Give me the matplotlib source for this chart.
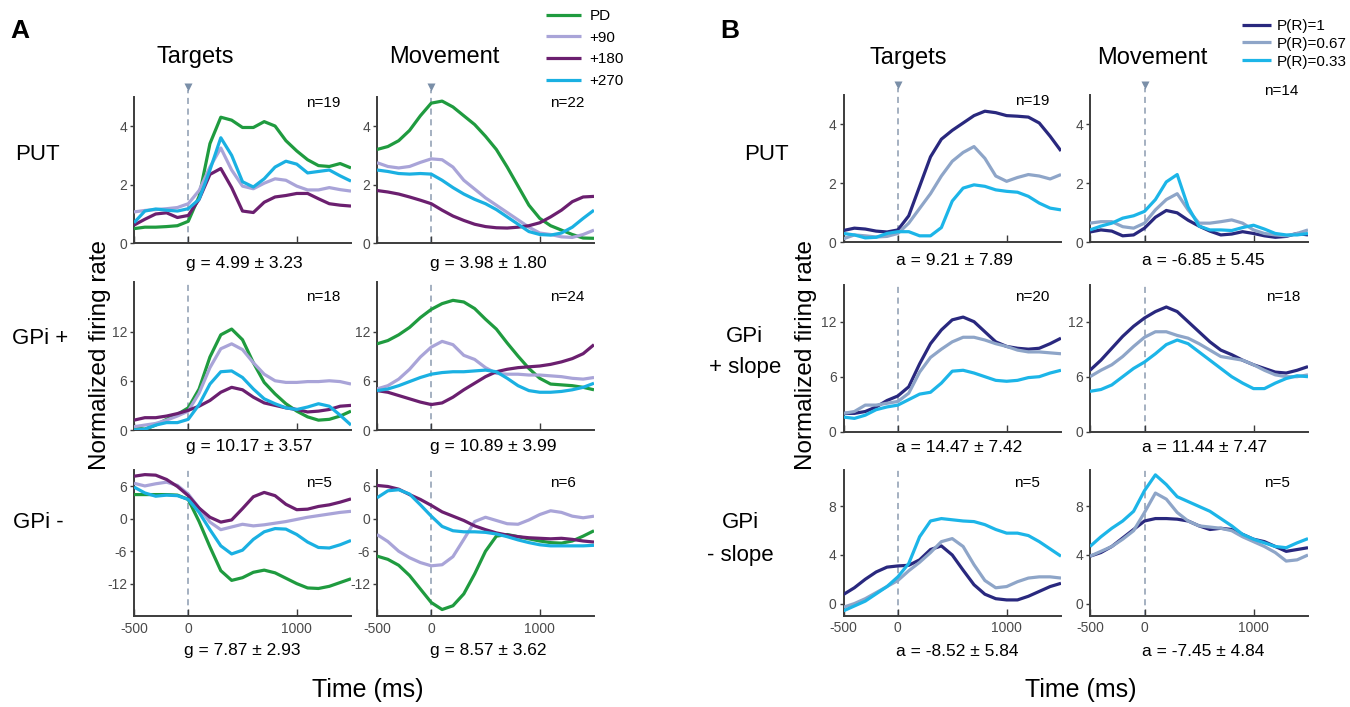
import matplotlib
matplotlib.use("Agg")
import matplotlib.pyplot as plt
from matplotlib import font_manager
from matplotlib.transforms import blended_transform_factory

plt.rcParams['font.family'] = ['Liberation Sans', 'DejaVu Sans']
installed = {f.name for f in font_manager.fontManager.ttflist}
tick_font = 'Liberation Sans Narrow' if 'Liberation Sans Narrow' in installed else 'Liberation Sans'

# time axis (ms) shared by every curve
time_ms = [-500, -400, -300, -200, -100, 0, 100, 200, 300, 400, 500,
           600, 700, 800, 900, 1000, 1100, 1200, 1300, 1400, 1500]

# ---- panel A : direction tuning ----
a_labels = ['PD', '+90', '+180', '+270']
a_colors = ['#1f9b3f', '#a9a4d8', '#6b1f6f', '#1ab0e2']

a_put_tgt_pd = [0.5, 0.55, 0.55, 0.57, 0.6, 0.75, 1.6, 3.4, 4.3, 4.2, 3.95, 3.95, 4.15, 4.0, 3.5, 3.15, 2.85, 2.65, 2.62, 2.72, 2.57]
a_put_tgt_90 = [1.07, 1.12, 1.15, 1.18, 1.22, 1.35, 1.8, 2.6, 3.25, 2.5, 1.95, 1.86, 2.05, 2.2, 2.15, 1.95, 1.82, 1.82, 1.9, 1.83, 1.78]
a_put_tgt_180 = [0.62, 0.82, 1.0, 1.04, 0.88, 0.95, 1.5, 2.35, 2.55, 1.9, 1.1, 1.05, 1.4, 1.58, 1.63, 1.7, 1.7, 1.52, 1.35, 1.3, 1.27]
a_put_tgt_270 = [0.7, 1.1, 1.17, 1.13, 1.1, 1.18, 1.5, 2.5, 3.6, 3.0, 2.1, 1.92, 2.2, 2.6, 2.8, 2.7, 2.4, 2.45, 2.5, 2.3, 2.12]

a_put_mov_pd = [3.2, 3.3, 3.5, 3.85, 4.35, 4.78, 4.85, 4.65, 4.35, 4.05, 3.65, 3.2, 2.6, 1.95, 1.3, 0.85, 0.6, 0.45, 0.3, 0.18, 0.17]
a_put_mov_90 = [2.75, 2.62, 2.57, 2.62, 2.76, 2.88, 2.85, 2.6, 2.15, 1.85, 1.55, 1.3, 1.05, 0.8, 0.55, 0.35, 0.3, 0.22, 0.2, 0.3, 0.45]
a_put_mov_180 = [1.8, 1.75, 1.68, 1.58, 1.47, 1.35, 1.13, 0.93, 0.78, 0.65, 0.57, 0.53, 0.52, 0.55, 0.6, 0.7, 0.9, 1.13, 1.42, 1.58, 1.6]
a_put_mov_270 = [2.5, 2.45, 2.38, 2.36, 2.38, 2.36, 2.15, 1.9, 1.68, 1.5, 1.35, 1.15, 0.9, 0.65, 0.4, 0.3, 0.28, 0.35, 0.55, 0.85, 1.13]

a_gpp_tgt_pd = [0.3, 0.1, 0.6, 1.3, 1.9, 2.7, 5.0, 8.9, 11.6, 12.3, 11.0, 8.2, 5.8, 4.4, 3.2, 2.3, 1.6, 1.2, 1.3, 1.7, 2.3]
a_gpp_tgt_90 = [0.4, 0.6, 0.8, 1.2, 1.7, 2.3, 4.5, 7.6, 9.9, 10.5, 9.8, 8.2, 6.8, 6.0, 5.8, 5.8, 5.9, 5.9, 6.0, 5.9, 5.6]
a_gpp_tgt_180 = [1.2, 1.5, 1.5, 1.7, 2.0, 2.4, 2.9, 3.6, 4.6, 5.2, 4.9, 4.0, 3.3, 3.0, 2.7, 2.5, 2.2, 2.3, 2.5, 2.9, 3.0]
a_gpp_tgt_270 = [0.0, 0.1, 0.6, 0.9, 0.9, 1.3, 3.1, 5.6, 7.1, 7.2, 6.4, 5.0, 3.8, 3.2, 2.7, 2.5, 2.8, 3.2, 2.9, 1.8, 0.6]

a_gpp_mov_pd = [10.5, 10.9, 11.6, 12.5, 13.7, 14.7, 15.4, 15.8, 15.6, 14.8, 13.5, 12.3, 10.6, 9.0, 7.5, 6.3, 5.6, 5.5, 5.4, 5.2, 4.9]
a_gpp_mov_90 = [5.0, 5.4, 6.2, 7.4, 8.9, 10.1, 10.8, 10.4, 9.1, 8.6, 7.6, 6.9, 6.8, 6.8, 6.7, 6.7, 6.6, 6.5, 6.3, 6.2, 6.4]
a_gpp_mov_180 = [4.8, 4.6, 4.2, 3.8, 3.4, 3.1, 3.3, 4.0, 4.9, 5.7, 6.5, 7.1, 7.4, 7.6, 7.7, 7.8, 8.0, 8.3, 8.7, 9.3, 10.4]
a_gpp_mov_270 = [4.8, 5.0, 5.4, 5.9, 6.4, 6.8, 7.0, 7.1, 7.1, 7.2, 7.3, 7.1, 6.3, 5.4, 4.8, 4.6, 4.6, 4.7, 4.9, 5.2, 5.7]

a_gpm_tgt_pd = [4.5, 4.5, 4.5, 4.5, 4.4, 3.6, -0.5, -5.2, -9.6, -11.4, -10.9, -9.9, -9.5, -10.0, -11.0, -12.0, -12.8, -12.9, -12.5, -11.8, -11.1]
a_gpm_tgt_90 = [6.6, 6.1, 6.5, 6.8, 6.2, 4.6, 2.0, -0.6, -2.0, -1.5, -1.0, -1.3, -1.1, -0.8, -0.5, -0.1, 0.3, 0.6, 0.9, 1.2, 1.4]
a_gpm_tgt_180 = [7.9, 8.2, 8.1, 7.3, 6.0, 4.3, 2.0, 0.3, -0.6, -0.2, 1.9, 4.1, 4.9, 4.3, 2.7, 1.7, 1.8, 2.3, 2.6, 3.1, 3.7]
a_gpm_tgt_270 = [5.9, 4.8, 4.2, 4.4, 4.3, 3.6, 1.2, -2.0, -5.0, -6.5, -5.8, -3.8, -2.4, -1.8, -1.9, -2.9, -4.3, -5.3, -5.4, -4.8, -4.0]

a_gpm_mov_pd = [-6.9, -7.5, -8.6, -10.5, -13.0, -15.5, -16.8, -16.1, -13.9, -10.2, -6.0, -3.2, -2.9, -3.3, -3.7, -4.1, -4.4, -4.5, -4.1, -3.2, -2.2]
a_gpm_mov_90 = [-2.9, -4.2, -6.0, -7.2, -8.1, -8.7, -8.5, -7.0, -3.8, -0.5, 0.3, -0.3, -0.9, -1.0, -0.2, 0.8, 1.5, 1.2, 0.5, 0.2, 0.5]
a_gpm_mov_180 = [6.2, 6.0, 5.5, 4.5, 3.6, 2.5, 1.3, 0.5, -0.3, -1.3, -2.0, -2.6, -3.0, -3.3, -3.5, -3.6, -3.7, -3.6, -3.8, -4.1, -4.3]
a_gpm_mov_270 = [3.9, 5.2, 5.4, 4.6, 2.6, 0.5, -1.4, -2.2, -2.4, -2.4, -2.5, -2.8, -3.3, -3.9, -4.4, -4.8, -5.0, -5.0, -5.0, -5.0, -4.9]

# ---- panel B : reward probability ----
b_labels = ['P(R)=1', 'P(R)=0.67', 'P(R)=0.33']
b_colors = ['#29287e', '#8ea5c8', '#1cb5e8']

b_put_tgt_1 = [0.4, 0.48, 0.45, 0.38, 0.35, 0.42, 0.9, 1.9, 2.9, 3.5, 3.8, 4.05, 4.3, 4.45, 4.4, 4.3, 4.28, 4.25, 4.05, 3.6, 3.1]
b_put_tgt_067 = [0.12, 0.25, 0.22, 0.18, 0.2, 0.3, 0.65, 1.15, 1.65, 2.25, 2.75, 3.05, 3.25, 2.85, 2.25, 2.07, 2.2, 2.3, 2.25, 2.15, 2.3]
b_put_tgt_033 = [0.3, 0.25, 0.15, 0.17, 0.3, 0.36, 0.36, 0.22, 0.22, 0.5, 1.4, 1.84, 1.95, 1.9, 1.78, 1.73, 1.7, 1.56, 1.33, 1.16, 1.1]

b_put_mov_1 = [0.35, 0.42, 0.38, 0.22, 0.25, 0.48, 0.85, 1.08, 1.0, 0.75, 0.55, 0.38, 0.25, 0.28, 0.36, 0.3, 0.22, 0.17, 0.2, 0.3, 0.25]
b_put_mov_067 = [0.65, 0.7, 0.7, 0.53, 0.48, 0.65, 1.1, 1.45, 1.65, 1.1, 0.65, 0.65, 0.7, 0.76, 0.65, 0.42, 0.3, 0.25, 0.22, 0.3, 0.42]
b_put_mov_033 = [0.42, 0.55, 0.65, 0.82, 0.9, 1.05, 1.45, 2.05, 2.3, 1.2, 0.55, 0.42, 0.42, 0.4, 0.5, 0.58, 0.45, 0.3, 0.25, 0.25, 0.3]

b_gpp_tgt_1 = [2.0, 2.0, 2.2, 2.7, 3.4, 3.9, 4.9, 7.4, 9.6, 11.1, 12.2, 12.5, 12.0, 10.9, 9.8, 9.3, 9.1, 9.0, 9.1, 9.6, 10.2]
b_gpp_tgt_067 = [2.0, 2.2, 2.9, 2.9, 3.1, 3.3, 4.2, 6.5, 8.1, 9.0, 9.8, 10.3, 10.3, 10.0, 9.6, 9.3, 8.9, 8.7, 8.7, 8.6, 8.5]
b_gpp_tgt_033 = [1.6, 1.45, 1.8, 2.4, 2.7, 2.9, 3.5, 4.1, 4.3, 5.3, 6.6, 6.7, 6.4, 6.0, 5.6, 5.5, 5.6, 5.9, 6.0, 6.4, 6.7]

b_gpp_mov_1 = [6.7, 7.8, 9.1, 10.4, 11.5, 12.4, 13.1, 13.6, 13.1, 12.0, 10.9, 9.8, 8.9, 8.4, 7.8, 7.3, 6.9, 6.5, 6.4, 6.7, 7.1]
b_gpp_mov_067 = [6.0, 6.7, 7.3, 8.2, 9.3, 10.3, 10.9, 10.9, 10.5, 10.2, 9.6, 8.9, 8.2, 8.0, 7.8, 7.3, 6.7, 6.2, 6.0, 6.0, 6.2]
b_gpp_mov_033 = [4.4, 4.6, 5.1, 6.0, 6.9, 7.6, 8.5, 9.5, 10.0, 9.6, 8.7, 7.8, 6.9, 6.0, 5.3, 4.7, 4.7, 5.3, 5.8, 6.1, 6.0]

b_gpm_tgt_1 = [0.75, 1.3, 2.0, 2.6, 3.0, 3.1, 3.15, 3.6, 4.45, 4.75, 4.0, 2.75, 1.55, 0.77, 0.4, 0.3, 0.3, 0.6, 1.0, 1.4, 1.67]
b_gpm_tgt_067 = [-0.3, 0.0, 0.4, 0.9, 1.4, 1.9, 2.7, 3.4, 4.2, 5.1, 5.35, 4.7, 3.2, 1.9, 1.3, 1.4, 1.8, 2.1, 2.2, 2.2, 2.1]
b_gpm_tgt_033 = [-0.6, -0.2, 0.2, 0.8, 1.4, 2.2, 3.3, 5.5, 6.8, 7.0, 6.9, 6.8, 6.75, 6.5, 6.1, 5.8, 5.8, 5.6, 5.1, 4.5, 3.9]

b_gpm_mov_1 = [3.9, 4.2, 4.7, 5.4, 6.1, 6.8, 7.0, 7.0, 6.95, 6.8, 6.4, 6.1, 6.2, 6.1, 5.7, 5.3, 5.1, 4.7, 4.3, 4.45, 4.6]
b_gpm_mov_067 = [3.9, 4.3, 4.7, 5.3, 6.0, 7.5, 9.1, 8.6, 7.5, 6.8, 6.4, 6.3, 6.2, 6.0, 5.5, 5.1, 4.7, 4.2, 3.5, 3.6, 4.0]
b_gpm_mov_033 = [4.7, 5.5, 6.2, 6.8, 7.6, 9.3, 10.6, 9.8, 8.8, 8.4, 8.0, 7.6, 7.0, 6.4, 5.7, 5.3, 5.0, 4.7, 4.6, 5.0, 5.35]

a_n = [['n=19', 'n=22'], ['n=18', 'n=24'], ['n=5', 'n=6']]
a_stats = [['g = 4.99 ± 3.23', 'g = 3.98 ± 1.80'],
           ['g = 10.17 ± 3.57', 'g = 10.89 ± 3.99'],
           ['g = 7.87 ± 2.93', 'g = 8.57 ± 3.62']]
b_n = [['n=19', 'n=14'], ['n=20', 'n=18'], ['n=5', 'n=5']]
b_stats = [['a = 9.21 ± 7.89', 'a = -6.85 ± 5.45'],
           ['a = 14.47 ± 7.42', 'a = 11.44 ± 7.47'],
           ['a = -8.52 ± 5.84', 'a = -7.45 ± 4.84']]

x_ticks = [-500, 0, 1000]
a_yticks = [[0, 2, 4], [0, 6, 12], [-12, -6, 0, 6]]
a_ylims = [(0, 5), (0, 18), (-18, 9)]
b_yticks = [[0, 2, 4], [0, 6, 12], [0, 4, 8]]
b_ylims = [(0, 5), (0, 16), (-1, 11)]

a_curves = [
    [[a_put_tgt_pd, a_put_tgt_90, a_put_tgt_180, a_put_tgt_270],
     [a_put_mov_pd, a_put_mov_90, a_put_mov_180, a_put_mov_270]],
    [[a_gpp_tgt_pd, a_gpp_tgt_90, a_gpp_tgt_180, a_gpp_tgt_270],
     [a_gpp_mov_pd, a_gpp_mov_90, a_gpp_mov_180, a_gpp_mov_270]],
    [[a_gpm_tgt_pd, a_gpm_tgt_90, a_gpm_tgt_180, a_gpm_tgt_270],
     [a_gpm_mov_pd, a_gpm_mov_90, a_gpm_mov_180, a_gpm_mov_270]],
]
b_curves = [
    [[b_put_tgt_1, b_put_tgt_067, b_put_tgt_033], [b_put_mov_1, b_put_mov_067, b_put_mov_033]],
    [[b_gpp_tgt_1, b_gpp_tgt_067, b_gpp_tgt_033], [b_gpp_mov_1, b_gpp_mov_067, b_gpp_mov_033]],
    [[b_gpm_tgt_1, b_gpm_tgt_067, b_gpm_tgt_033], [b_gpm_mov_1, b_gpm_mov_067, b_gpm_mov_033]],
]

W, H = 1350, 707
fig = plt.figure(figsize=(W / 100, H / 100), dpi=100)


def px(x, y):
    return x / W, 1 - y / H


spine_col = '#3c3c3c'
tick_col = '#4a4a4a'
dash_col = '#8b9bb0'


def make_axes(cols, rows, ylim, yticks, show_x, top_row):
    left, right = cols
    top, bottom = rows
    ax = fig.add_axes([left / W, 1 - bottom / H, (right - left) / W, (bottom - top) / H])
    ax.set_xlim(-500, 1500)
    ax.set_ylim(*ylim)
    ax.patch.set_alpha(0)
    for s in ['top', 'right']:
        ax.spines[s].set_visible(False)
    for s in ['left', 'bottom']:
        ax.spines[s].set_color(spine_col)
        ax.spines[s].set_linewidth(1.4)
    ax.set_yticks(yticks, labels=[str(v) for v in yticks], fontfamily=tick_font, fontsize=10, color=tick_col)
    if show_x:
        ax.set_xticks(x_ticks, labels=[str(v) for v in x_ticks], fontfamily=tick_font, fontsize=10, color=tick_col)
    else:
        ax.set_xticks(x_ticks, labels=['', '', ''])
    ax.tick_params(axis='y', direction='out', length=3, width=1, color=spine_col, pad=2)
    ax.tick_params(axis='x', direction='in', length=5, width=1, color=spine_col, pad=4)
    if top_row:
        ax.axvline(0, ymin=0, ymax=1.045, color=dash_col, lw=1.1, ls=(0, (4, 3)), zorder=1, clip_on=False)
        tr = blended_transform_factory(ax.transData, ax.transAxes)
        ax.plot([0], [1.068], marker='v', ms=6, color='#7a8fa8', mec='none', transform=tr, clip_on=False)
    else:
        ax.axvline(0, color=dash_col, lw=1.1, ls=(0, (4, 3)), zorder=1)
    return ax


a_cols = [(134, 351), (377, 594)]
a_rows = [(96.7, 243.3), (282.3, 430), (470.3, 616)]
b_cols = [(843.5, 1061), (1090, 1308)]
b_rows = [(95, 242.3), (285, 431.7), (470, 615.7)]

a_handles = None
for r in range(3):
    for c in range(2):
        ax = make_axes(a_cols[c], a_rows[r], a_ylims[r], a_yticks[r], r == 2, r == 0)
        lines = []
        for vals, col, lab in zip(a_curves[r][c], a_colors, a_labels):
            ln, = ax.plot(time_ms, vals, color=col, lw=2.3, label=lab, zorder=3,
                          solid_joinstyle='round', solid_capstyle='butt')
            lines.append(ln)
        if a_handles is None:
            a_handles = lines

b_handles = None
for r in range(3):
    for c in range(2):
        ax = make_axes(b_cols[c], b_rows[r], b_ylims[r], b_yticks[r], r == 2, r == 0)
        lines = []
        for vals, col, lab in zip(b_curves[r][c], b_colors, b_labels):
            ln, = ax.plot(time_ms, vals, color=col, lw=2.3, label=lab, zorder=3,
                          solid_joinstyle='round', solid_capstyle='butt')
            lines.append(ln)
        if b_handles is None:
            b_handles = lines

fig.legend(a_handles, a_labels, loc='upper left', bbox_to_anchor=px(546, 9), frameon=False,
           fontsize=11, handlelength=2.3, handletextpad=0.55, labelspacing=0.5,
           borderpad=0, borderaxespad=0)
fig.legend(b_handles, b_labels, loc='upper left', bbox_to_anchor=px(1242, 19), frameon=False,
           fontsize=11, handlelength=1.9, handletextpad=0.4, labelspacing=0.25,
           borderpad=0, borderaxespad=0)

# panel letters and column titles
fig.text(*px(20, 31), 'A', fontsize=19, fontweight='bold', ha='center', va='center')
fig.text(*px(730, 31), 'B', fontsize=19, fontweight='bold', ha='center', va='center')
for x, y, s in [(195, 57, 'Targets'), (444, 57, 'Movement'), (908, 58, 'Targets'), (1152, 58, 'Movement')]:
    fig.text(*px(x, y), s, fontsize=17, ha='center', va='center')

# row labels
for x, y, s in [(37, 155, 'PUT'), (40, 338, 'GPi +'), (38, 522, 'GPi -'),
                (766, 154, 'PUT'), (744, 336, 'GPi'), (745, 367, '+ slope'),
                (740, 522, 'GPi'), (740, 555, '- slope')]:
    fig.text(*px(x, y), s, fontsize=16, ha='center', va='center')

for x in (100, 806):
    fig.text(*px(x, 355), 'Normalized firing rate', fontsize=17.5, rotation=90, ha='center', va='center')
for x in (368, 1081):
    fig.text(*px(x, 690), 'Time (ms)', fontsize=18, ha='center', va='center')

# n counts and gain / slope statistics
a_n_pos = [[(323, 103), (567, 103)], [(323, 297), (567, 297)], [(319, 483), (563, 483)]]
b_n_pos = [[(1032, 101), (1281, 91)], [(1032, 297), (1283, 297)], [(1027, 483), (1277, 483)]]
a_stat_pos = [[(186, 263), (430, 263)], [(186, 447), (430, 447)], [(184, 650), (430, 650)]]
b_stat_pos = [[(896, 260), (1142, 260)], [(896, 448), (1142, 448)], [(896, 652), (1142, 652)]]
for r in range(3):
    for c in range(2):
        fig.text(*px(*a_n_pos[r][c]), a_n[r][c], fontsize=11, ha='center', va='center')
        fig.text(*px(*b_n_pos[r][c]), b_n[r][c], fontsize=11, ha='center', va='center')
        fig.text(*px(*a_stat_pos[r][c]), a_stats[r][c], fontsize=12.5, ha='left', va='center')
        fig.text(*px(*b_stat_pos[r][c]), b_stats[r][c], fontsize=12.5, ha='left', va='center')

fig.savefig('out.png', dpi=100)
